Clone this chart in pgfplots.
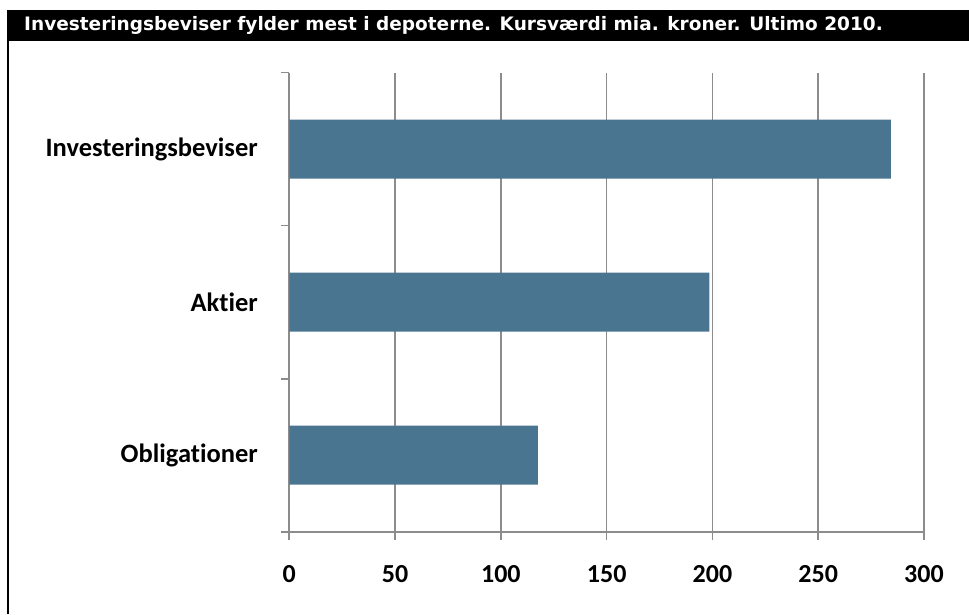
\documentclass[border=0pt]{standalone}
\usepackage{pgfplots}
\pgfplotsset{compat=1.18}
\usepackage{fontspec}
\setmainfont{Carlito}[Ligatures=NoCommon]
\newfontfamily\titlefont{DejaVu Sans}
\definecolor{barblue}{RGB}{74,117,145}
\definecolor{gridgray}{RGB}{140,140,140}
\begin{document}
\begin{tikzpicture}[x=1pt,y=1pt]
\path[use as bounding box] (0,0) rectangle (969,614);
\fill[black] (8,573) rectangle (969,604);
\node[anchor=west,text=white,inner sep=0pt] at (24,588.5) {\titlefont\bfseries\fontsize{18.5}{22}\selectfont Investeringsbeviser fylder mest i depoterne. Kursværdi mia. kroner. Ultimo 2010.};
\draw[black,line width=1.3pt] (8,0) -- (8,604);
\begin{axis}[
  at={(289.3pt,82.3pt)}, anchor=south west,
  scale only axis, width=634.7pt, height=459pt,
  xmin=0, xmax=300, ymin=-0.5, ymax=2.5,
  axis x line=bottom, axis y line=left,
  axis line style={gridgray,line width=1.6pt,-},
  xtick={0,50,100,150,200,250,300},
  xmajorgrids, major grid style={gridgray,line width=1.6pt},
  ytick={0,1,2},
  yticklabels={Obligationer,Aktier,Investeringsbeviser},
  minor ytick={-0.5,0.5,1.5,2.5},
  major y tick style={draw=none},
  minor tick length=8pt,
  major tick length=8pt,
  tick align=outside,
  tick style={gridgray,line width=1.6pt},
  /pgf/number format/assume math mode=true,
  xticklabel style={font=\bfseries\fontsize{26}{30}\selectfont, yshift=-22pt},
  yticklabel style={font=\bfseries\fontsize{26.5}{30}\selectfont, xshift=-20pt},
  xbar, bar width=59pt,
  clip=false,
]
\addplot[fill=barblue, draw=none] coordinates {(117.5,0) (198.6,1) (284.3,2)};
\end{axis}
\end{tikzpicture}
\end{document}
